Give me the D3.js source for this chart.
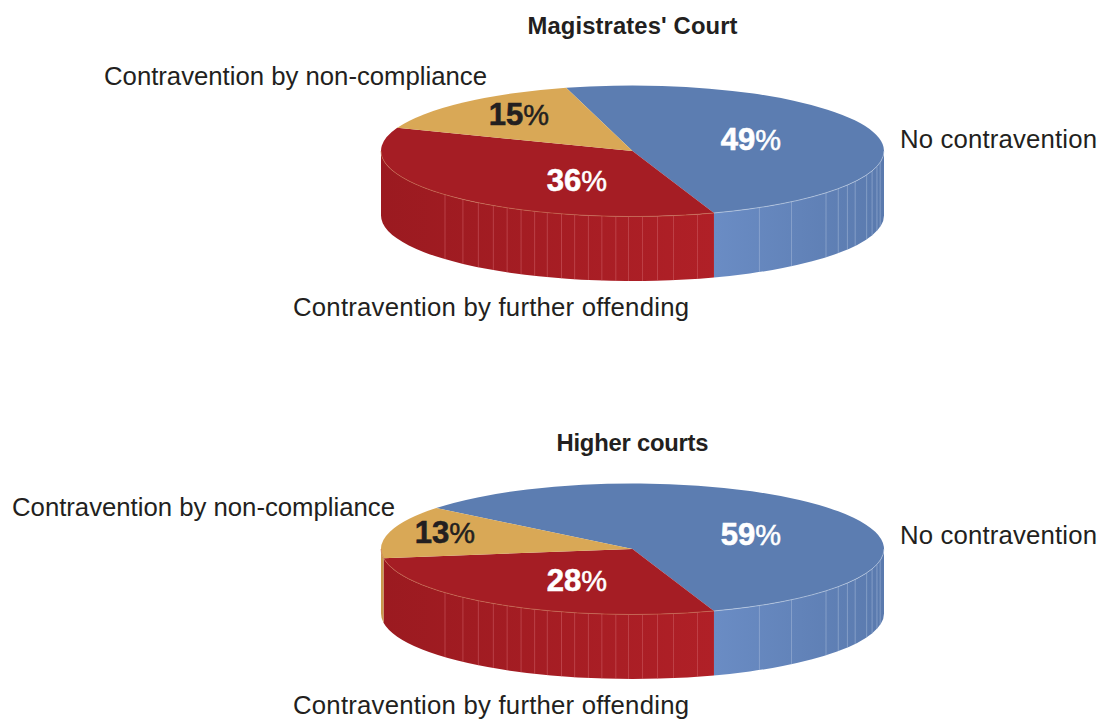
<!DOCTYPE html>
<html><head><meta charset="utf-8"><script src="https://cdnjs.cloudflare.com/ajax/libs/d3/7.8.5/d3.min.js"></script>
<style>html,body{margin:0;background:#fff}svg{display:block}text{font-family:"Liberation Sans",Arial,sans-serif;fill:#231f20}</style></head><body><svg id="c" width="1102" height="719"></svg>
<script>
const categories = ["No contravention","Contravention by further offending","Contravention by non-compliance"];
const courtTitles = ["Magistrates' Court","Higher courts"];
const magistratesValues = [49,36,15];
const higherValues = [59,28,13];
const startAnglesDeg = [-15.3,-51.3];
const wallRidgesDeg = [80,76.4,72.3,68.6,62.3,58.7,54.9,50.3,39.2,30.3,15,9.4,5.7,2.3,-.9,-3.8,-7,-10.1,-13.3,-16.4,-19.8,-22.9,-26.3,-29.9,-33.6,-37.8,-42.4,-48.2];
const topColors = ["#5c7db1","#a51d24","#d9a856"];
const wallStops = [["#5a7aae","#6a8cc4"],["#b02027","#9b1a20"],["#c9994d","#c9994d"]];
const labelColors = ["#fff","#fff","#231f20"];
const categoryWidths = [197,396,383];
const titleWidths = [210,152];

const svg = d3.select("#c");
const rx=251.5, ry=65.5, depth=64.5, cx=632.5;
const rad = d3.scaleLinear().domain([0,360]).range([0,2*Math.PI]);
const defs = svg.append("defs");
const gx = d3.scaleLinear().domain([-1,1]).range([cx-rx,cx+rx]);

function grad(id,c){
  const g=defs.append("linearGradient").attr("id",id).attr("gradientUnits","userSpaceOnUse")
    .attr("x1",id==="w0"?gx(1):gx(.33)).attr("x2",id==="w0"?gx(.33):gx(-1)).attr("y1",0).attr("y2",0);
  g.append("stop").attr("offset",0).attr("stop-color",c[0]);
  g.append("stop").attr("offset",1).attr("stop-color",c[1]);
}
wallStops.forEach((c,i)=>grad("w"+i,c));

function drawPie(values,title,titleW,startDeg,cy,titleY,labelSpec,labelPos){
  const g=svg.append("g");
  const y=d3.scaleLinear().domain([-1,1]).range([cy-ry,cy+ry]);
  const px=a=>gx(Math.sin(a)), py=a=>y(-Math.cos(a));
  const start=rad(startDeg);
  const arcs=d3.pie().sort(null).startAngle(start).endAngle(start+2*Math.PI)(values);
  const lo=Math.PI/2, hi=3*Math.PI/2;
  // side wall
  arcs.forEach((d,i)=>{
    const a0=Math.max(d.startAngle,lo), a1=Math.min(d.endAngle,hi);
    if(a1<=a0) return;
    const p=`M${px(a0)},${py(a0)}A${rx},${ry} 0 0 1 ${px(a1)},${py(a1)}L${px(a1)},${py(a1)+depth}A${rx},${ry} 0 0 0 ${px(a0)},${py(a0)+depth}Z`;
    g.append("path").attr("d",p).attr("fill",`url(#w${i})`);
  });
  // facets
  wallRidgesDeg.forEach(r=>{
    const a=rad(180-r);
    g.append("line").attr("x1",px(a)).attr("x2",px(a)).attr("y1",py(a)).attr("y2",py(a)+depth)
      .attr("stroke",a<arcs[0].endAngle?"#a9bcdc":"#d0636a").attr("stroke-width",.8).attr("opacity",.65);
  });
  // top face
  const arc=d3.arc().innerRadius(0).outerRadius(rx);
  const top=g.append("g").attr("transform",`translate(${cx},${cy}) scale(1,${ry/rx})`);
  top.selectAll("path").data(arcs).join("path").attr("d",arc).attr("fill",(d,i)=>topColors[i]);
  // rim highlight
  arcs.forEach((d,i)=>{
    const a0=Math.max(d.startAngle,lo), a1=Math.min(d.endAngle,hi);
    if(a1<=a0) return;
    g.append("path").attr("d",`M${px(a0)},${py(a0)}A${rx},${ry} 0 0 1 ${px(a1)},${py(a1)}`)
      .attr("fill","none").attr("stroke",i===0?"#c9d6ea":"#c9704f").attr("stroke-width",.8).attr("opacity",.75);
  });
  // text
  g.append("text").attr("x",cx).attr("y",titleY).attr("text-anchor","middle").attr("font-size",23.8).attr("font-weight",700)
    .attr("textLength",titleW).attr("lengthAdjust","spacing").text(title);
  values.forEach((v,i)=>{
    const t=g.append("text").attr("x",labelSpec[i][0]).attr("y",labelSpec[i][1]).attr("text-anchor","middle")
      .attr("font-size",31).attr("font-weight",700).style("fill",labelColors[i]);
    t.append("tspan").attr("stroke",labelColors[i]).attr("stroke-width",.6).text(v);
    t.append("tspan").attr("font-size",29).attr("font-weight",400).attr("stroke",labelColors[i]).attr("stroke-width",.5).text("%");
    g.append("text").attr("x",labelPos[i][0]).attr("y",labelPos[i][1]).attr("font-size",25.75)
      .attr("textLength",categoryWidths[i]).attr("lengthAdjust","spacing").text(categories[i]);
  });
}
drawPie(magistratesValues,courtTitles[0],titleWidths[0],startAnglesDeg[0],151,34,
  [[751,150],[577,191],[519,125]],[[900,148],[293,316],[104,85]]);
drawPie(higherValues,courtTitles[1],titleWidths[1],startAnglesDeg[1],549,451,
  [[751,545],[577,591],[445,543]],[[900,544],[293,713.5],[12,516]]);
</script></body></html>
